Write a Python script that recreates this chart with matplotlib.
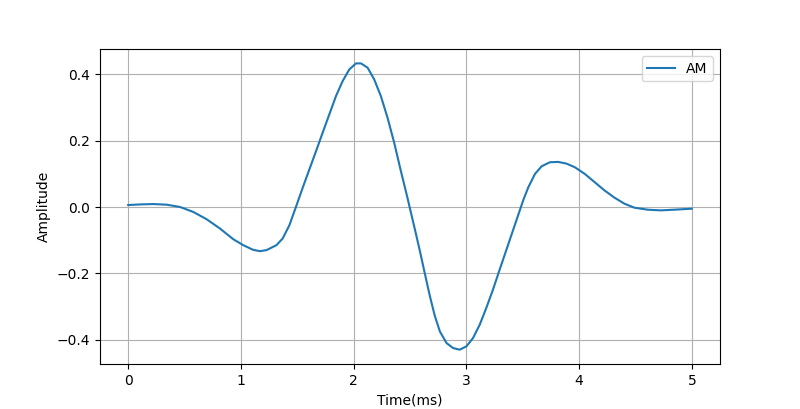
import matplotlib
matplotlib.use('Agg')
import matplotlib.pyplot as plt

# time (ms) and amplitude values
t_ms = [0.000, 0.112, 0.226, 0.344, 0.462, 0.579, 0.697, 0.815, 0.932, 1.021,
        1.109, 1.168, 1.226, 1.315, 1.370, 1.430, 1.491, 1.550, 1.609, 1.668,
        1.726, 1.785, 1.844, 1.903, 1.962, 2.021, 2.065, 2.124, 2.182, 2.241,
        2.300, 2.359, 2.418, 2.476, 2.500, 2.544, 2.588, 2.632, 2.676, 2.720,
        2.765, 2.824, 2.882, 2.941, 3.000, 3.059, 3.118, 3.176, 3.235, 3.294,
        3.353, 3.412, 3.462, 3.506, 3.550, 3.609, 3.668, 3.741, 3.815, 3.888,
        3.962, 4.050, 4.138, 4.226, 4.315, 4.403, 4.491, 4.609, 4.726, 4.844,
        5.000]
amp = [0.006, 0.008, 0.009, 0.007, 0.000, -0.015, -0.037, -0.065, -0.097, -0.115,
       -0.129, -0.133, -0.130, -0.115, -0.095, -0.055, 0.003, 0.060, 0.115, 0.170,
       0.225, 0.280, 0.335, 0.380, 0.415, 0.433, 0.433, 0.420, 0.385, 0.335,
       0.270, 0.195, 0.110, 0.030, -0.005, -0.068, -0.133, -0.201, -0.268, -0.328,
       -0.375, -0.410, -0.425, -0.430, -0.420, -0.395, -0.355, -0.305, -0.250, -0.190,
       -0.131, -0.072, -0.022, 0.022, 0.060, 0.100, 0.123, 0.135, 0.136, 0.131,
       0.120, 0.100, 0.075, 0.050, 0.028, 0.010, -0.002, -0.008, -0.010, -0.008,
       -0.005]

fig, ax = plt.subplots(figsize=(8, 4.09), dpi=100)
ax.plot(t_ms, amp, label='AM')
ax.set_xlabel('Time(ms)')
ax.set_ylabel('Amplitude')
ax.grid(True)
ax.legend(loc='upper right')
plt.savefig('out.png', dpi=100)
plt.close()
